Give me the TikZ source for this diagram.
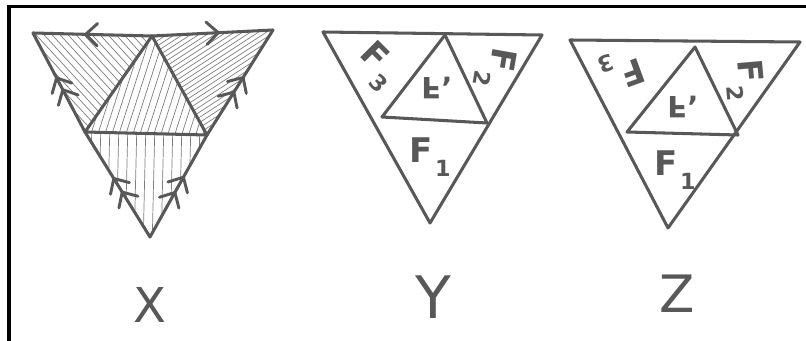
\documentclass[tikz,border=0pt]{standalone}
\usepackage{graphicx}
\usepackage{fontspec}
\setsansfont{DejaVu Sans}
\usetikzlibrary{arrows.meta, decorations.markings}
\definecolor{inkgray}{HTML}{585858}
\definecolor{hatchgray}{HTML}{7E7E7E}
\newcommand\fsub[2]{F\kern2pt\raisebox{-0.4em}{\fontsize{#2}{#2}\selectfont #1}}
\newcommand\fturned{\raisebox{\depth}{\scalebox{1}[-1]{F}}'}

\begin{document}
\begin{tikzpicture}[
    x=0.03cm, y=-0.03cm,
    edge/.style={draw=inkgray, line width=2.6pt, line join=round, line cap=round},
    hatch/.style={draw=hatchgray, line width=0.6pt},
    frame/.style={draw=black, line width=2.6pt},
    flabel/.style={font=\sffamily\bfseries\fontsize{29}{29}\selectfont, text=inkgray, inner sep=0pt},
    clabel/.style={font=\sffamily\bfseries\fontsize{25}{25}\selectfont, text=inkgray, inner sep=0pt},
    nlabel/.style={font=\sffamily\fontsize{#1}{#1}\selectfont, text=inkgray, inner sep=0pt},
    barb/.tip={Straight Barb[length=10pt, width=19pt, line width=2.5pt, round]},
    one/.style={postaction={decorate}, decoration={markings,
        mark=at position #1 with {\arrow[inkgray]{barb}}}},
    two/.style 2 args={postaction={decorate}, decoration={markings,
        mark=at position #1 with {\arrow[inkgray]{barb}},
        mark=at position #2 with {\arrow[inkgray]{barb}}}},
  ]
  \useasboundingbox (0,0) rectangle (806,341);

  % ── frame ──
  \draw[frame] (9,341) -- (9,6.5) -- (806,6.5);

  % ── X ──
  \coordinate (xa) at (33,33);
  \coordinate (xb) at (273,30);
  \coordinate (xc) at (150,237);
  \coordinate (xm) at (152,36);
  \coordinate (xl) at (85,132);
  \coordinate (xr) at (207,135);

  % hatching
  \begin{scope}
    \clip (xa) -- (xm) -- (xl) -- cycle;
    \foreach \c in {-60,-52,...,130} \draw[hatch] (\c,0) -- ++(230,250);
  \end{scope}
  \begin{scope}
    \clip (xm) -- (xb) -- (xr) -- cycle;
    \foreach \c in {196,204,...,430} \draw[hatch] (\c,0) -- ++(-300,195);
  \end{scope}
  \begin{scope}
    \clip (xm) -- (xl) -- (xr) -- cycle;
    \foreach \c in {120,127,...,260} \draw[hatch] (\c,0) -- ++(-90,280);
  \end{scope}
  \begin{scope}
    \clip (xl) -- (xr) -- (xc) -- cycle;
    \foreach \c in {92,101,...,206} \draw[hatch] (\c,120) -- ++(-3,130);
  \end{scope}

  \draw[edge] (xl) -- (xr) -- (xm) -- cycle;
  \draw[edge, one=0.57] (xm) -- (xa);
  \draw[edge, one=0.56] (xm) -- (xb);
  \draw[edge, two={0.44}{0.56}] (xl) -- (xa);
  \draw[edge, two={0.42}{0.56}] (xr) -- (xb);
  \draw[edge, two={0.44}{0.57}] (xc) -- (xl);
  \draw[edge, two={0.45}{0.60}] (xc) -- (xr);
  \node[nlabel=41] (xname) at (150,305) {X};

  % ── Y ──
  \coordinate (ya) at (323,32);
  \coordinate (yb) at (542,35);
  \coordinate (yc) at (430,223);
  \coordinate (ym) at (445,35);
  \coordinate (yl) at (382,117);
  \coordinate (yr) at (487,123);
  \draw[edge] (ya) -- (yb) -- (yc) -- cycle;
  \draw[edge] (ym) -- (yl) -- (yr) -- cycle;
  \node[flabel, rotate=-45] (yf3) at (377,66) {\fsub{3}{19}};
  \node[flabel, rotate=-100] (yf2) at (495,68) {\fsub{2}{19}};
  \node[clabel] (yfc) at (437,88) {\fturned};
  \node[flabel] (yf1) at (430,157) {\fsub{1}{19}};
  \node[nlabel=50] (yname) at (433,297) {Y};

  % ── Z ──
  \coordinate (za) at (570,40);
  \coordinate (zb) at (800,42);
  \coordinate (zc) at (668,228);
  \coordinate (zm) at (695,47);
  \coordinate (zl) at (627,132);
  \coordinate (zr) at (738,135);
  \draw[edge] (za) -- (zb) -- (zc) -- cycle;
  \draw[edge] (zm) -- (zl) -- (zr) -- cycle;
  \node[flabel, rotate=200] (zf3) at (622,70) {\fsub{3}{19}};
  \node[flabel, rotate=-85] (zf2) at (745,80) {\fsub{2}{19}};
  \node[clabel] (zfc) at (683,107) {\fturned};
  \node[flabel] (zf1) at (675,170) {\fsub{1}{19}};
  \node[nlabel=44] (zname) at (677,294) {Z};
\end{tikzpicture}
\end{document}
